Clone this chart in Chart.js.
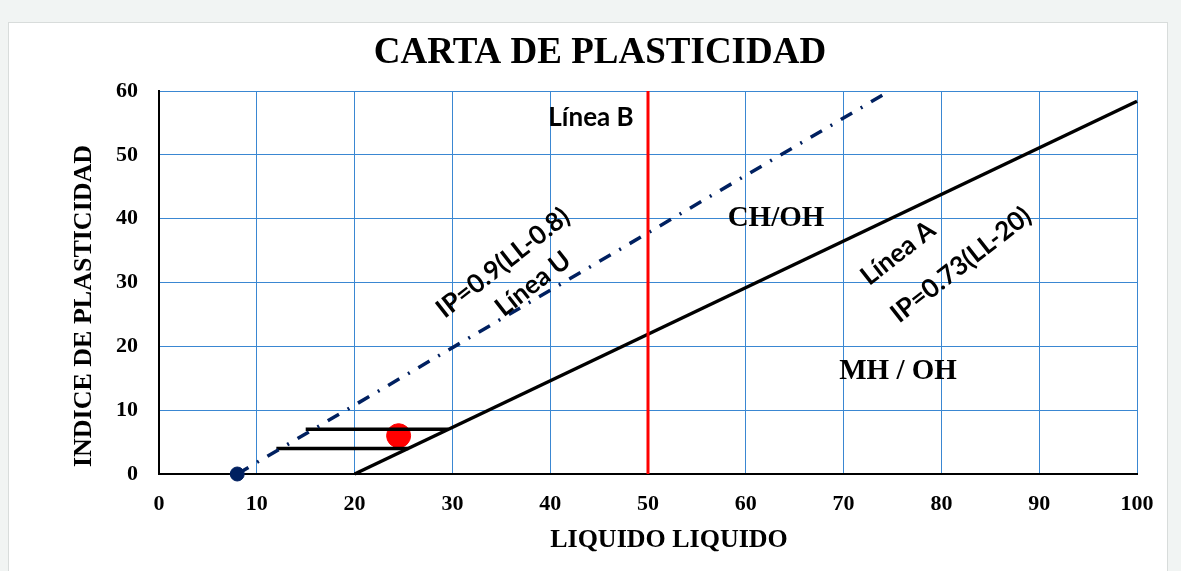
<!DOCTYPE html>
<html>
<head>
<meta charset="utf-8">
<script src="https://cdn.jsdelivr.net/npm/chart.js@4.4.0/dist/chart.umd.min.js"></script>
<style>
  html, body { margin: 0; padding: 0; background: #f1f4f3; }
  #wrap { position: absolute; left: 8px; top: 22px; width: 1158px; height: 560px; background: #fff; border: 1px solid #d8dcdb; }
  #chart { position: absolute; left: 0; top: 0; }
</style>
</head>
<body>
<div id="wrap"></div>
<canvas id="chart" width="1181" height="571"></canvas>
<script>
// Limite liquido (x) / indice de plasticidad (y)
const xTicks = [0, 10, 20, 30, 40, 50, 60, 70, 80, 90, 100];
const yTicks = [0, 10, 20, 30, 40, 50, 60];

const lineA_LL = [20, 100];
const lineA_IP = [0, 58.4];
const lineU_LL = [8, 74.7];
const lineU_IP = [0, 60];
const lineB_LL = [50, 50];
const lineB_IP = [0, 60];
const upper_LL = [15, 29.6];
const upper_IP = [7, 7];
const lower_LL = [12, 25.5];
const lower_IP = [4, 4];
const sample_LL = [24.5];
const sample_IP = [6];
const origin_LL = [8];
const origin_IP = [0];

const pts = (xs, ys) => xs.map((x, i) => ({ x: x, y: ys[i] }));

const labels = {
  id: 'labels',
  afterDraw(chart) {
    const ctx = chart.ctx;
    ctx.save();
    ctx.fillStyle = '#000';
    ctx.textAlign = 'center';
    ctx.textBaseline = 'middle';

    ctx.font = 'bold 37px "Liberation Serif"';
    ctx.fillText('CARTA DE PLASTICIDAD', 600, 53);

    ctx.font = 'bold 26px "Liberation Serif"';
    ctx.fillText('LIQUIDO LIQUIDO', 669, 540);
    ctx.save();
    ctx.translate(84, 306);
    ctx.rotate(-Math.PI / 2);
    ctx.fillText('INDICE DE PLASTICIDAD', 0, 0);
    ctx.restore();

    ctx.font = 'bold 29px "Liberation Serif"';
    ctx.fillText('CH/OH', 776, 219);
    ctx.fillText('MH / OH', 898, 372);

    ctx.font = 'bold 26px Lato';
    ctx.fillText('Línea B', 591, 118);

    const rot = (txt, x, y) => {
      ctx.save();
      ctx.translate(x, y);
      ctx.rotate(-38 * Math.PI / 180);
      ctx.fillText(txt, 0, 0);
      ctx.restore();
    };
    rot('IP=0.9(LL-0.8)', 503, 263);
    rot('Línea U', 533, 284);
    rot('Línea A', 898, 253);
    rot('IP=0.73(LL-20)', 961, 265);
    ctx.restore();
  }
};

new Chart(document.getElementById('chart').getContext('2d'), {
  type: 'scatter',
  data: {
    datasets: [
      { data: pts(lineB_LL, lineB_IP), showLine: true, borderColor: '#ff0000', borderWidth: 3, pointRadius: 0 },
      { data: pts(lineA_LL, lineA_IP), showLine: true, borderColor: '#000', borderWidth: 3.5, pointRadius: 0 },
      { data: pts(lineU_LL, lineU_IP), showLine: true, borderColor: '#002060', borderWidth: 3.5,
        borderDash: [13, 10, 2, 10], pointRadius: 0 },
      { data: pts(upper_LL, upper_IP), showLine: true, borderColor: '#000', borderWidth: 3.5, pointRadius: 0 },
      { data: pts(lower_LL, lower_IP), showLine: true, borderColor: '#000', borderWidth: 3.5, pointRadius: 0 },
      { data: pts(origin_LL, origin_IP), backgroundColor: '#002060', borderColor: '#002060', pointRadius: 7 },
      { data: pts(sample_LL, sample_IP), backgroundColor: '#ff0000', borderColor: '#ff0000', pointRadius: 12 }
    ]
  },
  options: {
    responsive: false,
    animation: false,
    clip: false,
    layout: { padding: { top: 91, right: 44, left: 0, bottom: 0 } },
    plugins: { legend: { display: false }, tooltip: { enabled: false } },
    scales: {
      x: {
        type: 'linear', min: 0, max: 100,
        afterBuildTicks: s => { s.ticks = xTicks.map(v => ({ value: v })); },
        afterFit: s => { s.height = 97; },
        grid: { color: '#3a87d2', lineWidth: 1, drawTicks: false },
        border: { color: '#000', width: 2 },
        ticks: { color: '#000', padding: 17, font: { family: 'Liberation Serif', size: 22, weight: 'bold' } }
      },
      y: {
        type: 'linear', min: 0, max: 60,
        afterBuildTicks: s => { s.ticks = yTicks.map(v => ({ value: v })); },
        afterFit: s => { s.width = 159; },
        grid: { color: '#3a87d2', lineWidth: 1, drawTicks: false },
        border: { color: '#000', width: 2 },
        ticks: { color: '#000', padding: 21, font: { family: 'Liberation Serif', size: 22, weight: 'bold' } }
      }
    }
  },
  plugins: [labels]
});
</script>
</body>
</html>
